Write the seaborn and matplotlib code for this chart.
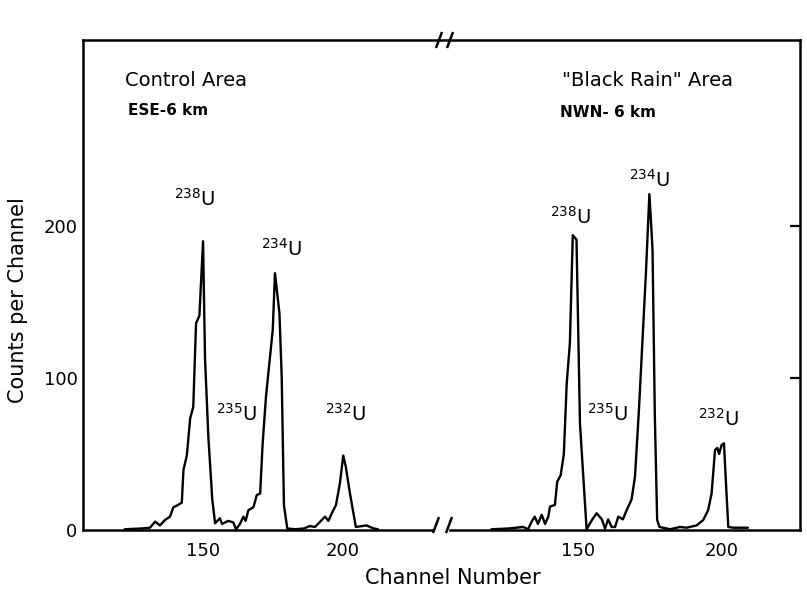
import numpy as np
import pandas as pd
import matplotlib
matplotlib.use("Agg")
import matplotlib.pyplot as plt
import seaborn as sns

# ---- data ----
ctrl_ch = [122, 128, 131, 132.9, 134.6, 136.4, 138.2, 139.4, 140.6, 142.4,
           143, 144.2, 145.4, 146.5, 147.5, 148.7, 150, 150.7, 151.9, 153.3,
           154.3, 156, 156.8, 159, 160.8, 161.8, 163.2, 164.4, 165.2, 166.2,
           168, 169.2, 170.4, 171.3, 172.5, 174.9, 175.7, 177.3, 178.1, 178.9,
           180.1, 183, 186, 188.2, 190, 193.6, 194.8, 196, 197.5, 198.9,
           200.1, 201, 202.5, 204.6, 208.4, 211, 212.5]
ctrl_counts = [0.5, 1, 1.5, 5.5, 3, 6.6, 8.8, 15, 16, 18,
               39.5, 49, 73.5, 81, 136, 141, 190, 113, 61, 20,
               4.4, 7.7, 4, 6, 5, 0.5, 4, 8.8, 6, 13,
               15, 23, 24, 57, 88, 131.6, 169, 142.5, 101, 16.4,
               1, 0.5, 1, 2.6, 2, 8.8, 6, 11, 16.4, 30.7,
               49, 41.7, 24, 2, 3, 1, 0.5]

br_ch = [120, 126, 131, 132.7, 133.9, 135, 136.1, 137.4, 138.6, 139.7,
         140.3, 142, 142.8, 144, 145.1, 146.1, 147.2, 148.2, 149.5, 150.7,
         153, 155, 156.5, 158.3, 159.4, 160.5, 161.7, 162.9, 164, 165.6,
         166.9, 168.6, 169.8, 171.2, 173.6, 174.8, 175.6, 175.9, 176.7, 177.5,
         178.3, 182, 185.4, 187.7, 191.2, 193.5, 195.2, 196.4, 197.6, 198.4,
         199, 199.9, 200.7, 201.4, 202.2, 204, 209]
br_counts = [0.5, 1, 2, 0.5, 5.5, 8.8, 4, 10, 4, 8.8,
             15.4, 16.5, 31.8, 36, 50, 96.5, 123, 194, 191, 70,
             0.5, 7, 11, 7, 1, 7, 2, 2, 8.8, 7,
             13, 20, 35, 80, 169, 221, 195, 184, 74.5, 6.6,
             2, 0.5, 2, 1.5, 3, 6.6, 13, 24, 52.6, 54,
             50, 56, 57, 30.7, 2, 1.5, 1.5]

x_ticks = [150, 200]
y_ticks = [0, 100, 200]
isotopes = ["238", "235", "234", "232"]
ctrl_label_pos = [(147.0, 211), (162.0, 69), (178.0, 178), (201.0, 69)]
br_label_pos = [(147.5, 199), (160.5, 69), (175.0, 223), (199.0, 66)]

sns.set_style("white")
plt.rcParams['font.family'] = ['DejaVu Sans']
plt.rcParams.update({"text.color": "black", "axes.labelcolor": "black",
                     "xtick.color": "black", "ytick.color": "black"})

fig = plt.figure(figsize=(8.07, 5.92), dpi=100)
H = 592.0
W = 807.0
bot = 1 - 530 / H
top = 1 - 40 / H
axL = fig.add_axes([83 / W, bot, (437 - 83) / W, top - bot])
axR = fig.add_axes([440 / W, bot, (800 - 440) / W, top - bot])

dfc = pd.DataFrame({"ch": ctrl_ch, "counts": ctrl_counts})
dfb = pd.DataFrame({"ch": br_ch, "counts": br_counts})
sns.lineplot(data=dfc, x="ch", y="counts", ax=axL, color="black", lw=1.7,
             sort=False)
sns.lineplot(data=dfb, x="ch", y="counts", ax=axR, color="black", lw=1.7,
             sort=False)

ymax = 322.4
axL.set_xlim(107.1, 233.6)
axR.set_xlim(102.1, 227.1)
for ax in (axL, axR):
    ax.set_ylim(0, ymax)
    ax.set_xlabel("")
    ax.set_ylabel("")
    ax.set_xticks(x_ticks)
    ax.set_yticks(y_ticks)
    for s in ax.spines.values():
        s.set_linewidth(1.8)
        s.set_color("black")
    ax.tick_params(axis="x", length=0, labelsize=13, pad=9,
                   labelcolor="black")
    ax.tick_params(axis="y", direction="in", length=7, width=1.6,
                   labelsize=13, labelcolor="black", color="black")

axL.spines["right"].set_visible(False)
axR.spines["left"].set_visible(False)
axR.yaxis.tick_right()
axR.tick_params(axis="y", labelright=False, direction="in")
axR.set_yticks([100, 200])
axL.set_yticklabels([str(v) for v in y_ticks])
axL.tick_params(axis="y", pad=4)

# break marks
kw = dict(color="black", lw=1.8, clip_on=False, solid_capstyle="butt")


def slash(xpix, ypix):
    fig.add_artist(plt.Line2D([(xpix - 3) / W, (xpix + 3) / W],
                              [1 - (ypix + 8) / H, 1 - (ypix - 8) / H],
                              transform=fig.transFigure, **kw))


fig.add_artist(plt.Line2D([437 / W, 440 / W], [top, top],
                          transform=fig.transFigure, **kw))
slash(439, 40)
slash(450, 40)
axL.spines["bottom"].set_bounds(107.1, 107.1 + (432 - 83) / 2.8)
axR.spines["bottom"].set_bounds(102.1 + (450 - 440) / 2.88, 227.1)
slash(436, 525)
slash(449, 525)

# peak labels
for (x, y), iso in zip(ctrl_label_pos, isotopes):
    axL.text(x, y, r"$^{%s}$U" % iso, fontsize=14, ha="center", va="bottom",
             color="black")
for (x, y), iso in zip(br_label_pos, isotopes):
    axR.text(x, y, r"$^{%s}$U" % iso, fontsize=14, ha="center", va="bottom",
             color="black")

axL.text(122.1, 296, "Control Area", fontsize=14, ha="left", va="center",
         color="black")
axL.text(123.2, 276, "ESE-6 km", fontsize=11, ha="left", va="center",
         fontweight="bold", color="black")
axR.text(144.4, 296, "\"Black Rain\" Area", fontsize=14, ha="left",
         va="center", color="black")
axR.text(143.8, 275, "NWN- 6 km", fontsize=11, ha="left", va="center",
         fontweight="bold", color="black")

fig.text(18 / W, 1 - 300 / H, "Counts per Channel", rotation=90,
         fontsize=15, ha="center", va="center", color="black")
fig.text(453 / W, 1 - 578 / H, "Channel Number", fontsize=15,
         ha="center", va="center", color="black")

fig.savefig("out.png", dpi=100)
